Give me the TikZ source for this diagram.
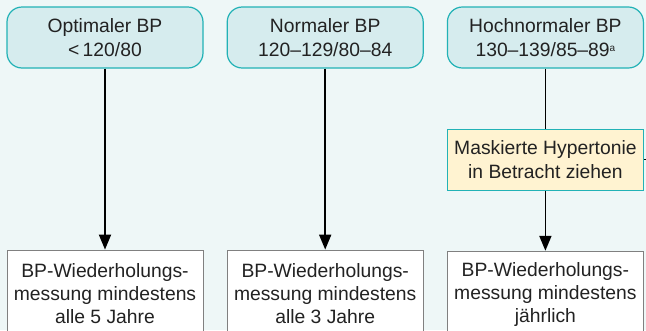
\documentclass[tikz,border=0pt]{standalone}
\usepackage{fontspec}
\setmainfont{Liberation Sans}
\usepackage{xcolor}
\usepackage{tikz}
\usetikzlibrary{arrows.meta, positioning}

\definecolor{bgcol}{HTML}{EEF7F7}
\definecolor{catfill}{HTML}{D6ECEE}
\definecolor{catline}{HTML}{22B2B6}
\definecolor{notefill}{HTML}{FFF3D1}
\definecolor{resline}{HTML}{808080}
\definecolor{txtcol}{HTML}{222222}

\begin{document}
\begin{tikzpicture}
\tikzstyle{category} = [rectangle, rounded corners=15pt, draw=catline, line width=1.2pt, fill=catfill, minimum width=196pt, minimum height=61pt, inner sep=0pt, align=center, text=txtcol, font=\fontsize{19.3}{24}\selectfont]
\tikzstyle{note} = [rectangle, draw=catline, line width=1.2pt, fill=notefill, minimum width=196pt, minimum height=61pt, inner sep=0pt, align=center, text=txtcol, font=\fontsize{19.3}{24}\selectfont]
\tikzstyle{result} = [rectangle, draw=resline, line width=1pt, fill=white, minimum width=196pt, minimum height=86pt, inner sep=0pt, align=center, text=txtcol, font=\fontsize{19.3}{23}\selectfont]
\tikzstyle{flow} = [line width=1.8pt, -{Triangle[length=15pt,width=12pt]}]

\useasboundingbox (0,0) rectangle (646pt,-330pt);
\clip (0,0) rectangle (646pt,-330pt);
\fill[bgcol] (0,0) rectangle (646pt,-330pt);

% blood pressure categories
\node (c1) [category] at (105pt,-37.5pt) {Optimaler BP\\<\,120/80};
\node (c2) [category, right=23pt of c1] {Normaler BP\\120–129/80–84};
\node (c3) [category, right=23pt of c2] {Hochnormaler BP\\130–139/85–89{\fontsize{10}{10}\selectfont\raisebox{5pt}{a}}};

\node (n3) [note, below=60pt of c3] {Maskierte Hypertonie\\in Betracht ziehen};
\coordinate (side) at ([xshift=8pt]n3.east);

% follow-up
\node (r1) [result, below=181pt of c1.south, anchor=north] {BP-Wiederholungs-\\messung mindestens\\alle 5 Jahre};
\node (r2) [result, below=181pt of c2.south, anchor=north] {BP-Wiederholungs-\\messung mindestens\\alle 3 Jahre};
\node (r3) [result, below=60pt of n3] {BP-Wiederholungs-\\messung mindestens\\jährlich};

\draw[flow] (c1) -- (r1);
\draw[flow] (c2) -- (r2);
\draw[line width=1.8pt] (c3) -- (n3);
\draw[flow] (n3) -- (r3);
\draw[line width=1.2pt] (n3) -- (side);

\end{tikzpicture}
\end{document}
